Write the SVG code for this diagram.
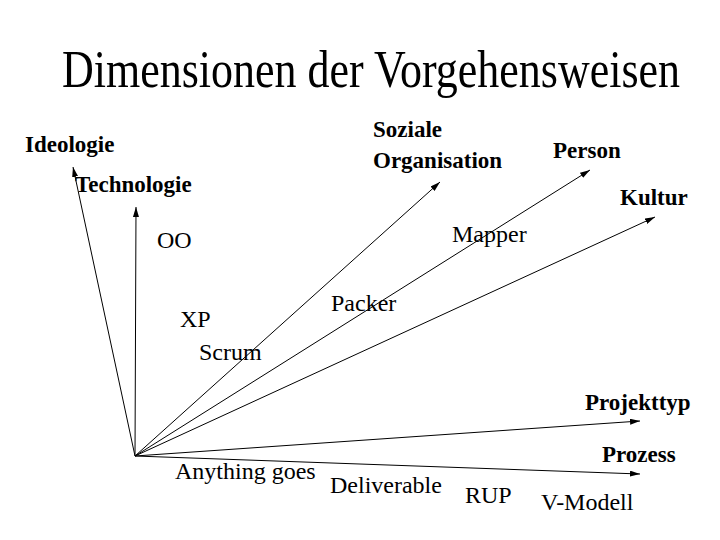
<svg xmlns="http://www.w3.org/2000/svg" width="720" height="540" viewBox="0 0 720 540">
<style>
.ln{stroke:#000;stroke-width:1;fill:none}
</style>
<defs>
<marker id="ah" viewBox="0 0 10 6" refX="10" refY="3" markerWidth="10" markerHeight="6" markerUnits="userSpaceOnUse" orient="auto">
<path d="M0,0 L10,3 L0,6 Z" fill="#000"/>
</marker>
</defs>
<rect width="720" height="540" fill="#fff"/>
<text id="title" x="0" y="0" transform="translate(62,87) scale(1,1.2)" font-family="Liberation Serif" font-size="44">Dimensionen der Vorgehensweisen</text>
<g id="connectors">
<line class="ln" x1="135" y1="456" x2="73" y2="167" marker-end="url(#ah)"/>
<line class="ln" x1="135" y1="456" x2="136" y2="207" marker-end="url(#ah)"/>
<line class="ln" x1="135" y1="456" x2="440" y2="182" marker-end="url(#ah)"/>
<line class="ln" x1="135" y1="456" x2="590" y2="170" marker-end="url(#ah)"/>
<line class="ln" x1="135" y1="456" x2="655" y2="217" marker-end="url(#ah)"/>
<line class="ln" x1="135" y1="456" x2="640" y2="421" marker-end="url(#ah)"/>
<line class="ln" x1="135" y1="456" x2="640" y2="474" marker-end="url(#ah)"/>
</g>
<g id="ideologie"><text x="25" y="152" font-family="Liberation Serif" font-weight="bold" font-size="23">Ideologie</text></g>
<g id="technologie"><text x="75" y="192" font-family="Liberation Serif" font-weight="bold" font-size="23">Technologie</text></g>
<g id="soziale"><text x="373" y="137" font-family="Liberation Serif" font-weight="bold" font-size="23">Soziale</text><text x="373" y="168" font-family="Liberation Serif" font-weight="bold" font-size="23">Organisation</text></g>
<g id="person"><text x="553" y="158" font-family="Liberation Serif" font-weight="bold" font-size="23">Person</text></g>
<g id="kultur"><text x="620" y="205" font-family="Liberation Serif" font-weight="bold" font-size="23">Kultur</text></g>
<g id="projekttyp"><text x="585" y="410" font-family="Liberation Serif" font-weight="bold" font-size="23">Projekttyp</text></g>
<g id="prozess"><text x="602" y="462" font-family="Liberation Serif" font-weight="bold" font-size="23">Prozess</text></g>
<g id="oo"><text x="157" y="248" font-family="Liberation Serif" font-size="24">OO</text></g>
<g id="mapper"><text x="452" y="242" font-family="Liberation Serif" font-size="24">Mapper</text></g>
<g id="xp"><text x="180" y="327" font-family="Liberation Serif" font-size="24">XP</text></g>
<g id="packer"><text x="331" y="311" font-family="Liberation Serif" font-size="24">Packer</text></g>
<g id="scrum"><text x="199" y="360" font-family="Liberation Serif" font-size="24">Scrum</text></g>
<g id="anything"><text x="175" y="479" font-family="Liberation Serif" font-size="24">Anything goes</text></g>
<g id="deliverable"><text x="330" y="493" font-family="Liberation Serif" font-size="24">Deliverable</text></g>
<g id="rup"><text x="465" y="503" font-family="Liberation Serif" font-size="24">RUP</text></g>
<g id="vmodell"><text x="541" y="510" font-family="Liberation Serif" font-size="24">V-Modell</text></g>
</svg>
